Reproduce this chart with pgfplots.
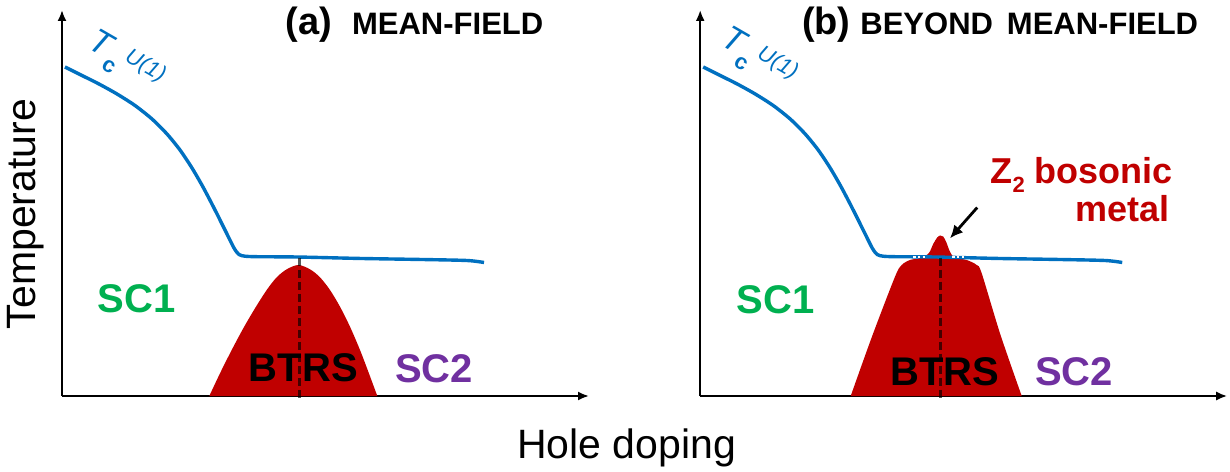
\documentclass[border=0pt]{standalone}
\usepackage{fontspec}
\setmainfont{Liberation Sans}
\usepackage{pgfplots}
\pgfplotsset{compat=1.18}
\usepackage{pgfplotstable}
\usetikzlibrary{arrows.meta}
\definecolor{tcblue}{HTML}{0070C0}
\definecolor{domered}{HTML}{C00000}
\definecolor{scgreen}{HTML}{00B050}
\definecolor{scpurple}{HTML}{7030A0}

\pgfplotstableread{
x y
3 329
20 320.5
37 312
55 302
73 290.5
90 277
105 262
118 246
130 228
141 209
152 188
163 166
172 148
177 141.5
183 139.8
195 139.3
235 139
300 137.5
360 136.5
405 135.5
422 133.5
}\tcdata

\pgfplotstableread{
x y
147.3 0
158 22.7
169.7 46
181.3 67.7
193 87.7
204.7 106
214.7 118.7
224.7 126.7
236.3 131
248 126.7
258 118.7
268 106
278 89.3
288 69.3
298 46
306.3 24.3
315.3 0
}\domea

\pgfplotstableread{
x y
150.5 0
172 60
194.8 119.3
201.5 131
209.8 136
220 138
228.5 142.7
233 152
237 158.5
240 160.5
243 159.5
246 154
249 146
252 140.5
256 138
266.5 136
276.5 131
281.5 122.7
300 62
321.5 0
}\domeb

\pgfplotsset{
  phase/.style={
    x=0.5pt, y=0.5pt,
    xmin=0, xmax=527, ymin=0, ymax=386,
    anchor=south west,
    axis lines=left,
    axis line style={line width=1pt, black, -{Latex[length=5.5pt,width=4.5pt]}},
    ticks=none,
    clip=false,
  },
}
\tikzset{lbl/.style={inner sep=0pt, font=\fontsize{20}{20}\selectfont\bfseries}}

\newcommand{\tclabel}{\textit{T}\kern-0.02em\raisebox{-0.33em}{\fontsize{11}{11}\selectfont\bfseries c}\kern0.12em\raisebox{0.22em}{\fontsize{11}{11}\selectfont\itshape U(1)}}

\begin{document}
\begin{tikzpicture}
\path[use as bounding box] (0,0) rectangle (615pt,235.5pt);

% ---------- panel (a)
\begin{axis}[phase, at={(31pt,37.5pt)}]
\addplot[fill=domered, draw=none, smooth, tension=0.5] table[x=x,y=y] {\domea} \closedcycle;
\addplot[tcblue, line width=1.7pt, smooth, tension=0.45] table[x=x,y=y] {\tcdata};
\addplot[black, opacity=0.65, line width=1.5pt, dash pattern=on 4pt off 2pt] coordinates {(237,138) (237,-2)};
\node[lbl, text=scgreen, anchor=base] at (axis cs:74.5,83) {SC1};
\node[lbl, text=black, anchor=base] at (axis cs:241.3,15) {BTRS};
\node[lbl, text=scpurple, anchor=base] at (axis cs:372,14) {SC2};
\node[rotate=-30, text=tcblue, inner sep=0pt, font=\fontsize{17}{17}\selectfont] at (axis cs:63,333) {\tclabel};
\node[inner sep=0pt, anchor=base west, font=\fontsize{19}{19}\selectfont\bfseries] at (axis cs:223,361) {(a)};
\node[inner sep=0pt, anchor=base west, font=\fontsize{15.5}{15.5}\selectfont\bfseries] at (axis cs:289.7,361) {MEAN-FIELD};
\node[inner sep=0pt, rotate=90, anchor=center, font=\fontsize{20.5}{20.5}\selectfont] at (axis cs:-36,182) {Temperature};
\end{axis}

% ---------- panel (b)
\begin{axis}[phase, at={(350.1pt,37.5pt)}]
\addplot[fill=domered, draw=none, smooth, tension=0.5] table[x=x,y=y] {\domeb} \closedcycle;
\addplot[tcblue, line width=1.7pt, smooth, tension=0.45] table[x=x,y=y] {\tcdata};
\addplot[white, line width=0.9pt, dash pattern=on 1.2pt off 1.2pt] coordinates {(213,139.2) (227,139.2)};
\addplot[white, line width=0.9pt, dash pattern=on 1.2pt off 1.2pt] coordinates {(252,138.9) (266,138.9)};
\addplot[black, opacity=0.65, line width=1.5pt, dash pattern=on 4pt off 2pt] coordinates {(240,138.5) (240,-2)};
\node[lbl, text=scgreen, anchor=base] at (axis cs:75.3,83) {SC1};
\node[lbl, text=black, anchor=base] at (axis cs:244.8,10.5) {BTRS};
\node[lbl, text=scpurple, anchor=base] at (axis cs:373.8,11) {SC2};
\node[rotate=-30, text=tcblue, inner sep=0pt, font=\fontsize{17}{17}\selectfont] at (axis cs:57,336) {\tclabel};
\node[inner sep=0pt, anchor=base west, font=\fontsize{19}{19}\selectfont\bfseries] at (axis cs:101.5,361) {(b)};
\node[inner sep=0pt, anchor=base west, font=\fontsize{15.5}{15.5}\selectfont\bfseries] at (axis cs:159.8,361) {BEYOND\hspace{0.45em}MEAN-FIELD};
\node[inner sep=0pt, anchor=base east, text=domered, font=\fontsize{18}{18}\selectfont\bfseries] at (axis cs:473.1,212.7) {Z\raisebox{-0.25em}{\fontsize{11}{11}\selectfont 2} bosonic};
\node[inner sep=0pt, anchor=base east, text=domered, font=\fontsize{18}{18}\selectfont\bfseries] at (axis cs:469.8,174.3) {metal};
\draw[-{Latex[length=6.5pt,width=6pt]}, line width=1.4pt, black] (axis cs:277,188.5) -- (axis cs:249.8,157.7);
\node[inner sep=0pt, anchor=base, font=\fontsize{20.5}{20.5}\selectfont] at (axis cs:-73.6,-62.3) {Hole doping};
\end{axis}
\end{tikzpicture}
\end{document}
